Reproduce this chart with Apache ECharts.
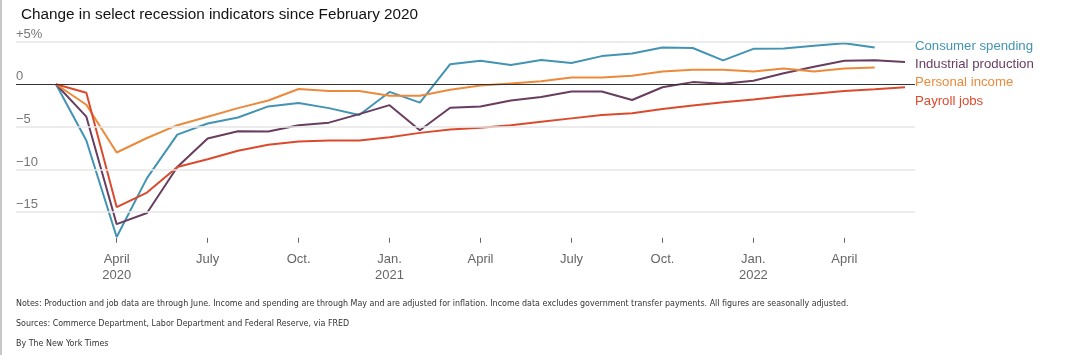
<!DOCTYPE html>
<html>
<head>
<meta charset="utf-8">
<script src="https://cdn.jsdelivr.net/npm/echarts@6/dist/echarts.min.js"></script>
<style>
  html, body { margin: 0; padding: 0; background: #fff; }
  #chart { width: 1065px; height: 355px; }
</style>
</head>
<body>
<div id="chart"></div>
<script>
// Months from Feb 2020 (index 0) to June 2022 (index 28)
const months = ['Feb 2020','Mar 2020','Apr 2020','May 2020','Jun 2020','Jul 2020','Aug 2020','Sep 2020','Oct 2020','Nov 2020','Dec 2020',
  'Jan 2021','Feb 2021','Mar 2021','Apr 2021','May 2021','Jun 2021','Jul 2021','Aug 2021','Sep 2021','Oct 2021','Nov 2021','Dec 2021',
  'Jan 2022','Feb 2022','Mar 2022','Apr 2022','May 2022','Jun 2022'];

const consumerSpending = [0, -6.6, -17.9, -11.0, -5.9, -4.6, -3.9, -2.6, -2.2, -2.8, -3.6, -0.9, -2.15, 2.35, 2.75, 2.25, 2.85, 2.5, 3.3, 3.6, 4.3, 4.25, 2.8, 4.15, 4.2, 4.5, 4.8, 4.3];
const industrialProduction = [0, -3.8, -16.4, -15.1, -9.7, -6.35, -5.5, -5.55, -4.8, -4.5, -3.5, -2.45, -5.4, -2.75, -2.6, -1.9, -1.5, -0.85, -0.85, -1.85, -0.35, 0.25, 0.05, 0.4, 1.3, 2.05, 2.75, 2.8, 2.6];
const personalIncome = [0, -2.4, -8.0, -6.3, -4.8, -3.8, -2.8, -1.9, -0.55, -0.8, -0.8, -1.35, -1.35, -0.65, -0.15, 0.1, 0.35, 0.8, 0.8, 1.0, 1.5, 1.7, 1.7, 1.5, 1.85, 1.5, 1.85, 1.95];
const payrollJobs = [0, -1.0, -14.4, -12.7, -9.7, -8.8, -7.8, -7.1, -6.7, -6.6, -6.6, -6.2, -5.7, -5.3, -5.1, -4.8, -4.4, -4.0, -3.6, -3.4, -2.9, -2.5, -2.1, -1.8, -1.4, -1.1, -0.8, -0.6, -0.35];

const xTickIndex = [2, 5, 8, 11, 14, 17, 20, 23, 26];
const xTickLabels = ['April\n2020', 'July', 'Oct.', 'Jan.\n2021', 'April', 'July', 'Oct.', 'Jan.\n2022', 'April'];
const yTickValues = [-15, -10, -5, 0, 5];
const yTickLabels = ['\u221215', '\u221210', '\u22125', '0', '+5%'];
const gridValues = [5, -5, -10, -15];

const seriesNames = ['Consumer spending', 'Industrial production', 'Personal income', 'Payroll jobs'];
const seriesValues = [consumerSpending, industrialProduction, personalIncome, payrollJobs];
const colors = ['#4393b3', '#683d5f', '#ec8a3b', '#dc4a2d'];

const FONT = '"Liberation Sans", Arial, sans-serif';
const NOTE_FONT = '8.85px "Liberation Sans Narrow", "DejaVu Sans Condensed", sans-serif';

const chart = echarts.init(document.getElementById('chart'), null, { renderer: 'canvas' });

const lineSeries = seriesNames.map((name, k) => ({
  name: name,
  type: 'line',
  z: 3,
  data: seriesValues[k].map((v, i) => [i, v]),
  showSymbol: false,
  symbol: 'none',
  lineStyle: { color: colors[k], width: 2 },
  itemStyle: { color: colors[k] },
  emphasis: { disabled: true },
  silent: true
}));

const option = {
  animation: false,
  backgroundColor: '#fff',
  title: {
    text: 'Change in select recession indicators since February 2020',
    left: 16,
    top: 2,
    textStyle: { fontFamily: FONT, fontSize: 15.3, fontWeight: 'normal', color: '#121212' }
  },
  grid: { left: 16, right: 150, top: 41.6, bottom: 117.2, containLabel: false },
  legend: {
    orient: 'vertical',
    left: 905,
    top: 34,
    icon: 'none',
    itemWidth: 0,
    itemHeight: 14,
    itemGap: 4.3,
    selectedMode: false,
    data: seriesNames.map((n, k) => ({ name: n, textStyle: { color: colors[k] } })),
    textStyle: { fontFamily: FONT, fontSize: 13.2, lineHeight: 14 }
  },
  xAxis: {
    type: 'value',
    position: 'bottom',
    min: -1.32,
    max: 28.33,
    axisLine: { show: true, onZero: false, lineStyle: { color: 'rgba(0,0,0,0)' } },
    splitLine: { show: false },
    axisTick: { show: true, inside: false, customValues: xTickIndex, length: 5, lineStyle: { color: '#666', width: 1 } },
    axisLabel: {
      customValues: xTickIndex,
      formatter: v => xTickLabels[xTickIndex.indexOf(Math.round(v))] || '',
      fontFamily: FONT, fontSize: 13, color: '#666', lineHeight: 16, margin: 14
    }
  },
  yAxis: {
    type: 'value',
    min: -18,
    max: 5,
    axisLine: { show: false },
    axisTick: { show: false },
    splitLine: { show: false },
    axisLabel: {
      customValues: yTickValues,
      inside: true,
      align: 'left',
      verticalAlign: 'bottom',
      margin: 0,
      padding: [0, 0, 1, 0],
      formatter: v => yTickLabels[yTickValues.indexOf(Math.round(v))] || '',
      fontFamily: FONT, fontSize: 13, color: '#777'
    }
  },
  series: [
    {
      name: 'gridlines',
      type: 'line',
      z: 1,
      data: [],
      silent: true,
      markLine: {
        silent: true,
        symbol: 'none',
        label: { show: false },
        animation: false,
        data: gridValues.map(v => ({ yAxis: v, lineStyle: { color: '#e6e6e6', width: 1.5, type: 'solid' } }))
          .concat([{ yAxis: 0, lineStyle: { color: '#333', width: 1, type: 'solid' } }])
      }
    }
  ].concat(lineSeries),
  graphic: [
    { type: 'rect', left: 0, top: 0, shape: { width: 2, height: 355 }, style: { fill: '#c8c8c8' }, silent: true },
    { type: 'text', left: 16, top: 299, style: { text: 'Notes: Production and job data are through June. Income and spending are through May and are adjusted for inflation. Income data excludes government transfer payments. All figures are seasonally adjusted.', font: NOTE_FONT, fill: '#333' } },
    { type: 'text', left: 16, top: 319, style: { text: 'Sources: Commerce Department, Labor Department and Federal Reserve, via FRED', font: NOTE_FONT, fill: '#333' } },
    { type: 'text', left: 16, top: 339, style: { text: 'By The New York Times', font: NOTE_FONT, fill: '#333' } }
  ]
};

chart.setOption(option);
</script>
</body>
</html>
